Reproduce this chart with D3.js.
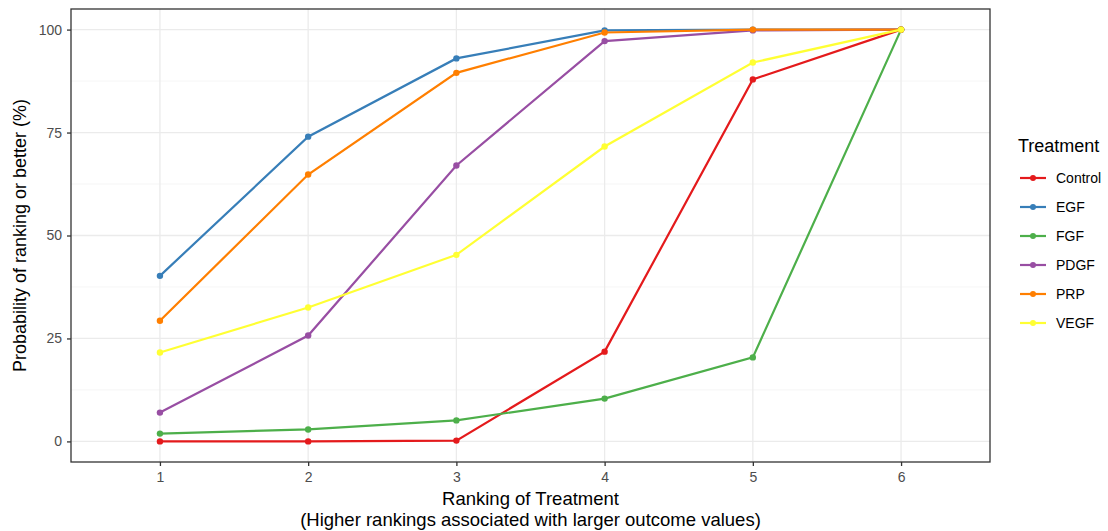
<!DOCTYPE html>
<html>
<head>
<meta charset="utf-8">
<script src="https://cdn.jsdelivr.net/npm/d3@7"></script>
<style>
  body { margin: 0; background: #fff; }
  svg { font-family: Arial, "Liberation Sans", sans-serif; }
</style>
</head>
<body>
<div id="chart"></div>
<script>
// Data
const ranks = [1, 2, 3, 4, 5, 6];
const treatments = ["Control", "EGF", "FGF", "PDGF", "PRP", "VEGF"];
const colors = ["#E41A1C", "#377EB8", "#4DAF4A", "#984EA3", "#FF7F00", "#FFFF33"];
const controlVals = [0, 0, 0.2, 21.8, 87.9, 100];
const egfVals = [40.2, 74.0, 93.0, 99.8, 100, 100];
const fgfVals = [1.9, 2.9, 5.1, 10.4, 20.4, 100];
const pdgfVals = [7.0, 25.7, 67.0, 97.2, 99.8, 100];
const prpVals = [29.3, 64.8, 89.5, 99.3, 100, 100];
const vegfVals = [21.6, 32.5, 45.3, 71.6, 92.0, 100];
const yTicks = [0, 25, 50, 75, 100];

const series = [controlVals, egfVals, fgfVals, pdgfVals, prpVals, vegfVals].map((vals, i) => ({
    name: treatments[i],
    color: colors[i],
    values: vals.map((v, j) => ({ rank: ranks[j], p: v }))
}));

const margin = { top: 9, right: 118, bottom: 69, left: 71 };
const W = 1108, H = 531;
const width = W - margin.left - margin.right;
const height = H - margin.top - margin.bottom;

const svg = d3.select("#chart").append("svg")
    .attr("width", W)
    .attr("height", H);

const g = svg.append("g")
    .attr("transform", `translate(${margin.left},${margin.top})`);

const x = d3.scaleLinear().domain([0.4, 6.6]).range([0, width]);
const y = d3.scaleLinear().domain([-5, 105]).range([height, 0]);

// Grid (minor then major)
const minorY = [12.5, 37.5, 62.5, 87.5];
g.selectAll(".minor-y").data(minorY).enter().append("line")
    .attr("x1", 0).attr("x2", width)
    .attr("y1", d => y(d)).attr("y2", d => y(d))
    .attr("stroke", "#f2f2f2").attr("stroke-width", 0.8);

g.selectAll(".major-y").data(yTicks).enter().append("line")
    .attr("x1", 0).attr("x2", width)
    .attr("y1", d => y(d)).attr("y2", d => y(d))
    .attr("stroke", "#ebebeb").attr("stroke-width", 1.3);

g.selectAll(".major-x").data(ranks).enter().append("line")
    .attr("y1", 0).attr("y2", height)
    .attr("x1", d => x(d)).attr("x2", d => x(d))
    .attr("stroke", "#ebebeb").attr("stroke-width", 1.3);

// Lines and points
const line = d3.line().x(d => x(d.rank)).y(d => y(d.p));

series.forEach(s => {
    g.append("path")
        .datum(s.values)
        .attr("fill", "none")
        .attr("stroke", s.color)
        .attr("stroke-width", 2.2)
        .attr("d", line);
    g.selectAll(null).data(s.values).enter().append("circle")
        .attr("cx", d => x(d.rank))
        .attr("cy", d => y(d.p))
        .attr("r", 3.2)
        .attr("fill", s.color);
});

// Panel border
g.append("rect")
    .attr("width", width).attr("height", height)
    .attr("fill", "none").attr("stroke", "#333").attr("stroke-width", 1.3);

// Axes
const xAxis = g.append("g")
    .attr("transform", `translate(0,${height})`)
    .call(d3.axisBottom(x).tickValues(ranks).tickSize(4).tickPadding(6).tickFormat(d3.format("d")));
const yAxis = g.append("g")
    .call(d3.axisLeft(y).tickValues(yTicks).tickSize(4).tickPadding(5));

[xAxis, yAxis].forEach(a => {
    a.select(".domain").remove();
    a.selectAll(".tick line").attr("stroke", "#333").attr("stroke-width", 1.3);
    a.selectAll(".tick text")
        .attr("fill", "#4d4d4d")
        .style("font-size", "14px")
        .style("font-family", "Arial, 'Liberation Sans', sans-serif");
});

// Axis titles
svg.append("text")
    .attr("x", margin.left + width / 2)
    .attr("y", 505)
    .attr("text-anchor", "middle")
    .style("font-size", "18.5px")
    .text("Ranking of Treatment");
svg.append("text")
    .attr("x", margin.left + width / 2)
    .attr("y", 526)
    .attr("text-anchor", "middle")
    .style("font-size", "18.5px")
    .text("(Higher rankings associated with larger outcome values)");

svg.append("text")
    .attr("transform", `translate(26,${margin.top + height / 2}) rotate(-90)`)
    .attr("text-anchor", "middle")
    .style("font-size", "18px")
    .text("Probability of ranking or better (%)");

// Legend
const legend = svg.append("g").attr("transform", "translate(1018,0)");
legend.append("text")
    .attr("x", 0).attr("y", 152)
    .style("font-size", "18px")
    .text("Treatment");

const items = legend.selectAll(".item").data(series).enter().append("g")
    .attr("transform", (d, i) => `translate(0,${178 + i * 29})`);
items.append("line")
    .attr("x1", 2).attr("x2", 28)
    .attr("stroke", d => d.color).attr("stroke-width", 2.2);
items.append("circle")
    .attr("cx", 15).attr("r", 3)
    .attr("fill", d => d.color);
items.append("text")
    .attr("x", 38).attr("y", 5)
    .style("font-size", "14px")
    .text(d => d.name);
</script>
</body>
</html>
